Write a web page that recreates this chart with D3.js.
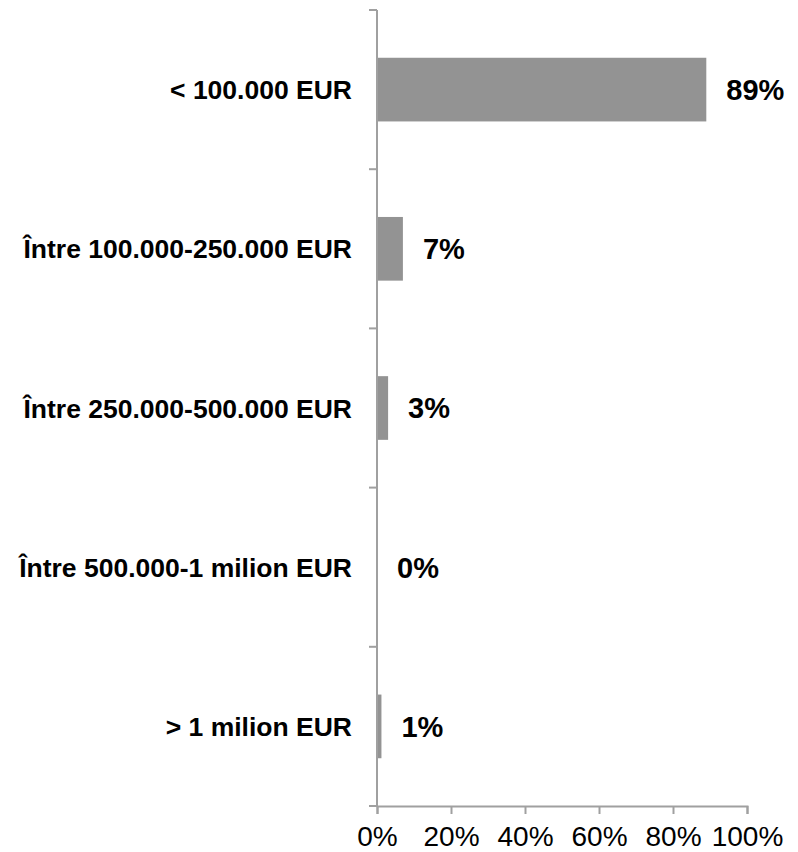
<!DOCTYPE html>
<html>
<head>
<meta charset="utf-8">
<title>Distribuție pe praguri de valoare</title>
<script type="text/javascript" src="https://d3js.org/d3.v7.js"></script>
<style>
    * { margin: 0; padding: 0; }
    body { background: #fff; }
    #chart-container { width: 798px; height: 852px; }
    text { font-family: Arial, "Liberation Sans", sans-serif; }
</style>
</head>
<body>
    <div id="chart-container"></div>
    <script type="text/javascript">
        // date
        const categories = [
            "< 100.000 EUR",
            "Între 100.000-250.000 EUR",
            "Între 250.000-500.000 EUR",
            "Între 500.000-1 milion EUR",
            "> 1 milion EUR"
        ];
        const values = [89, 7, 3, 0, 1.2];
        const xTicks = [0, 20, 40, 60, 80, 100];

        const width = 798, height = 852;
        const margin = { top: 10, right: 51, bottom: 46, left: 377 };
        const axisColor = "#a0a0a0";
        const barColor = "#939393";

        const svg = d3.select("#chart-container")
            .append("svg")
            .attr("width", width)
            .attr("height", height);

        const x = d3.scaleLinear()
            .domain([0, 100])
            .range([margin.left, width - margin.right]);

        const y = d3.scaleBand()
            .domain(categories)
            .range([margin.top, height - margin.bottom])
            .paddingInner(0.6)
            .paddingOuter(0.3);

        // bare
        svg.append("g")
            .selectAll("rect")
            .data(values)
            .join("rect")
            .attr("x", x(0))
            .attr("y", (d, i) => y(categories[i]))
            .attr("width", d => x(d) - x(0))
            .attr("height", y.bandwidth())
            .attr("fill", barColor);

        // etichete valori
        svg.append("g")
            .selectAll("text")
            .data(values)
            .join("text")
            .attr("x", d => x(d) + 20)
            .attr("y", (d, i) => y(categories[i]) + y.bandwidth() / 2)
            .attr("dy", "0.36em")
            .attr("font-size", 29)
            .attr("font-weight", "bold")
            .attr("fill", "#000")
            .text(d => Math.round(d) + "%");

        // axa Y: linie + gradatii la granitele categoriilor
        const yTop = margin.top, yBottom = height - margin.bottom;
        const gy = svg.append("g");
        gy.append("line")
            .attr("x1", x(0)).attr("x2", x(0))
            .attr("y1", yTop).attr("y2", yBottom)
            .attr("stroke", axisColor).attr("stroke-width", 2);
        gy.selectAll(".ytick")
            .data(d3.range(categories.length + 1))
            .join("line")
            .attr("class", "ytick")
            .attr("x1", x(0) - 8).attr("x2", x(0))
            .attr("y1", i => yTop + i * (yBottom - yTop) / categories.length)
            .attr("y2", i => yTop + i * (yBottom - yTop) / categories.length)
            .attr("stroke", axisColor).attr("stroke-width", 2);
        gy.selectAll(".ylabel")
            .data(categories)
            .join("text")
            .attr("class", "ylabel")
            .attr("x", x(0) - 25)
            .attr("y", d => y(d) + y.bandwidth() / 2)
            .attr("dy", "0.36em")
            .attr("text-anchor", "end")
            .attr("font-size", 26.5)
            .attr("font-weight", "bold")
            .attr("fill", "#000")
            .text(d => d);

        // axa X
        const gx = svg.append("g")
            .attr("transform", `translate(0,${yBottom})`)
            .call(d3.axisBottom(x).tickValues(xTicks).tickSize(8).tickFormat(d => d + "%"));
        gx.select(".domain").attr("stroke", axisColor).attr("stroke-width", 2);
        gx.selectAll(".tick line").attr("stroke", axisColor).attr("stroke-width", 2);
        gx.selectAll(".tick text")
            .attr("font-family", "Arial, 'Liberation Sans', sans-serif")
            .attr("font-size", 28)
            .attr("fill", "#000")
            .attr("dy", "1.05em");
    </script>
</body>
</html>
